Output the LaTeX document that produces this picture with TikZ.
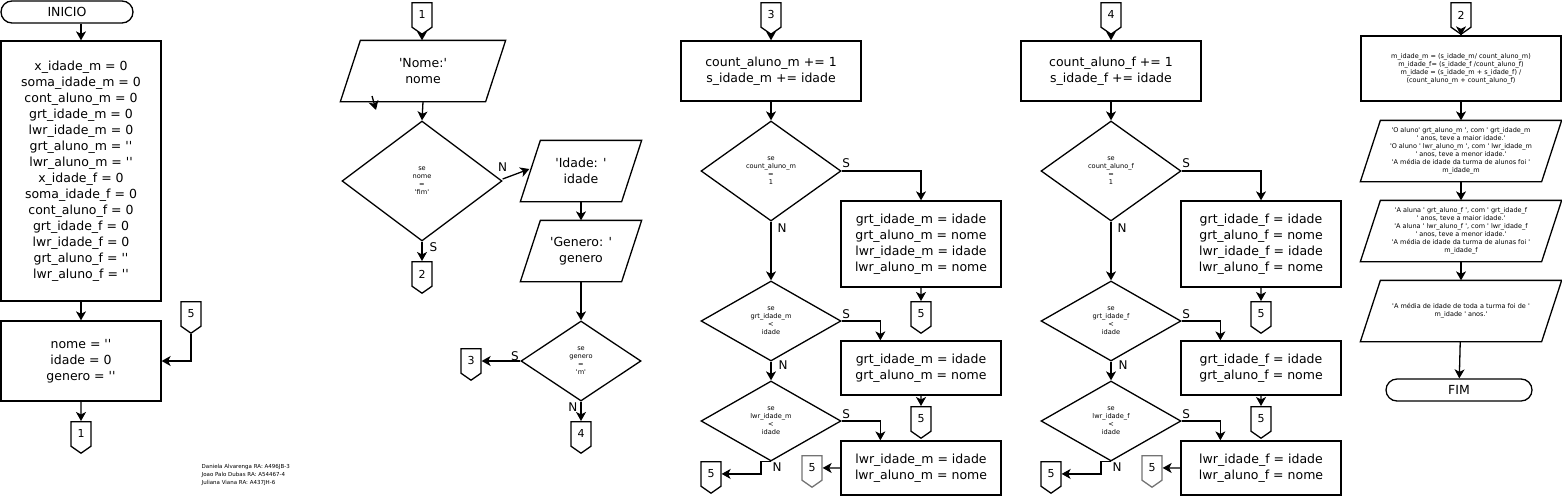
\documentclass[tikz,border=0pt]{standalone}
\usepackage{fontspec}
\setmainfont{DejaVu Sans}[Ligatures=TeXOff]
\usetikzlibrary{arrows.meta,shapes.geometric,shapes.symbols}

% paralelogramo de entrada/saida sobre um no retangular
\newcommand{\paral}[1]{\draw ([xshift=20pt]#1.north west) -- (#1.north east) -- ([xshift=-20pt]#1.south east) -- (#1.south west) -- cycle;}

\begin{document}
\begin{tikzpicture}[x=1pt, y=-1pt, line width=1.3pt,
		font=\fontsize{12.5}{16}\selectfont,
		every node/.style={align=center, inner sep=0pt},
		flux/.style={-{Stealth[length=9pt, width=10pt, inset=2.5pt]}},
		terminal/.style={draw, rectangle, rounded corners=11pt, minimum height=22pt},
		proc/.style={draw, rectangle},
		io/.style={rectangle, minimum height=60pt},
		decisao/.style={draw, diamond, font=\fontsize{6.6}{8}\selectfont},
		conector/.style={draw, signal, signal to=south, signal pointer angle=110, minimum width=20pt, minimum height=27pt, anchor=north, font=\fontsize{11}{13}\selectfont},
		rotulo/.style={font=\fontsize{12}{14}\selectfont},
		miudo/.style={font=\fontsize{6.5}{8}\selectfont}]
	\useasboundingbox (0,0) rectangle (1562,496);

	% inicio e variaveis
	\node[terminal, minimum width=132pt] (inicio) at (67,12) {INICIO};
	\node[proc, minimum width=160pt, minimum height=260pt] (ini_m) at (81,171) {x\_idade\_m = 0\\soma\_idade\_m = 0\\cont\_aluno\_m = 0\\grt\_idade\_m = 0\\lwr\_idade\_m = 0\\grt\_aluno\_m = ''\\lwr\_aluno\_m = ''\\x\_idade\_f = 0\\soma\_idade\_f = 0\\cont\_aluno\_f = 0\\grt\_idade\_f = 0\\lwr\_idade\_f = 0\\grt\_aluno\_f = ''\\lwr\_aluno\_f = ''};
	\node[proc, minimum width=160pt, minimum height=80pt] (ini_var) at (81,361) {nome = ''\\idade = 0\\genero = ''};
	\node[conector] (c1a) at (81,421) {1};
	\node[conector] (c5a) at (191,301) {5};
	\draw[flux] (ini_m.north |- inicio.south) -- (ini_m.north);
	\draw[flux] (ini_m) -- (ini_var);
	\draw[flux] (ini_var) -- (c1a);
	\draw[flux] (c5a.south) |- (ini_var.east);

	\node[font=\fontsize{5.5}{8}\selectfont, align=left, anchor=north west] (autores) at (201,464) {Daniela Alvarenga RA: A496JB-3\\Joao Palo Dubas RA: A54467-4\\Juliana Viana RA: A437JH-6};

	% leitura
	\node[conector] (c1b) at (422,2) {1};
	\node[io, minimum width=164pt] (le_nome) at (423,71) {'Nome:'\\nome};
	\paral{le_nome}
	\node[decisao, minimum width=160pt, minimum height=120pt] (se_fim) at (422,181) {se\\nome\\=\\'fim'};
	\node[conector] (c2a) at (422,261) {2};
	\node[io, minimum width=120pt] (le_idade) at (581,171) {'Idade: '\\idade};
	\paral{le_idade}
	\node[io, minimum width=120pt] (le_genero) at (581,251) {'Genero: '\\genero};
	\paral{le_genero}
	\node[decisao, minimum width=120pt, minimum height=80pt] (se_m) at (581,361) {se\\genero\\=\\'m'};
	\node[conector] (c3a) at (471,348) {3};
	\node[conector] (c4a) at (581,421) {4};
	\coordinate (solta_a) at (372,96);
	\coordinate (solta_b) at (376,110);
	\draw[flux] (c1b.south) -- (c1b.south |- le_nome.north);
	\draw[flux] (solta_a) -- (solta_b);
	\draw[flux] (le_nome.south) -- (se_fim.north);
	\draw[flux] ([yshift=2pt]se_fim.east) -- ([xshift=9pt,yshift=2pt]le_idade.west) node[rotulo, pos=0, anchor=south, yshift=7pt]{N};
	\draw[flux] (se_fim.south) -- (c2a.north) node[rotulo, pos=0, anchor=north west, xshift=7pt]{S};
	\draw[flux] (le_idade) -- (le_genero);
	\draw[flux] (le_genero) -- (se_m);
	\draw[flux] (se_m.west) -- (se_m.west -| c3a.east) node[rotulo, pos=0, anchor=south east, xshift=-1pt]{S};
	\draw[flux] (se_m.south) -- (c4a.north) node[rotulo, pos=0, anchor=north east, xshift=-3pt]{N};

	% alunos
	\node[conector] (c3b) at (771,2) {3};
	\node[proc, minimum width=180pt, minimum height=60pt] (soma_m) at (771,71) {count\_aluno\_m += 1\\s\_idade\_m += idade};
	\node[decisao, minimum width=140pt, minimum height=100pt] (se_um_m) at (771,171) {se\\count\_aluno\_m\\=\\1};
	\node[proc, minimum width=160pt, minimum height=86pt] (prim_m) at (921,244) {grt\_idade\_m = idade\\grt\_aluno\_m = nome\\lwr\_idade\_m = idade\\lwr\_aluno\_m = nome};
	\node[conector] (c5b) at (921,301) {5};
	\node[decisao, minimum width=140pt, minimum height=80pt] (se_maior_m) at (771,321) {se\\grt\_idade\_m\\<\\idade};
	\node[proc, minimum width=160pt, minimum height=54pt] (maior_m) at (921,368) {grt\_idade\_m = idade\\grt\_aluno\_m = nome};
	\node[conector] (c5c) at (921,406) {5};
	\node[decisao, minimum width=140pt, minimum height=80pt] (se_menor_m) at (771,421) {se\\lwr\_idade\_m\\<\\idade};
	\node[proc, minimum width=160pt, minimum height=54pt] (menor_m) at (921,468) {lwr\_idade\_m = idade\\lwr\_aluno\_m = nome};
	\node[conector, draw=black!55] (c5d) at (812,455) {5};
	\node[conector] (c5e) at (711,461) {5};
	\draw[flux] (c3b) -- (soma_m);
	\draw[flux] (soma_m) -- (se_um_m);
	\draw[flux] (se_um_m.east) -| (prim_m.north) node[rotulo, pos=0, anchor=south west, yshift=3pt]{S};
	\draw[flux] (prim_m) -- (c5b);
	\draw[flux] (se_um_m.south) -- (se_maior_m.north) node[rotulo, pos=0, anchor=north west, xshift=6pt, yshift=-1pt]{N};
	\draw[flux] (se_maior_m.east) -| ([xshift=40pt]maior_m.north west) node[rotulo, pos=0, anchor=south west, yshift=2pt]{S};
	\draw[flux] (maior_m) -- (c5c);
	\draw[flux] (se_maior_m.south) -- (se_menor_m.north) node[rotulo, pos=0, anchor=north west, xshift=7pt, yshift=2pt]{N};
	\draw[flux] (se_menor_m.east) -| ([xshift=40pt]menor_m.north west) node[rotulo, pos=0, anchor=south west, yshift=2pt]{S};
	\draw[flux] (menor_m.west) -- (c5d.east);
	\draw[flux] (se_menor_m.south) -- ++(-10,0) |- (c5e.east) node[rotulo, pos=0, anchor=north west, xshift=11pt]{N};

	% alunas
	\node[conector] (c4b) at (1111,2) {4};
	\node[proc, minimum width=180pt, minimum height=60pt] (soma_f) at (1111,71) {count\_aluno\_f += 1\\s\_idade\_f += idade};
	\node[decisao, minimum width=140pt, minimum height=100pt] (se_um_f) at (1111,171) {se\\count\_aluno\_f\\=\\1};
	\node[proc, minimum width=160pt, minimum height=86pt] (prim_f) at (1261,244) {grt\_idade\_f = idade\\grt\_aluno\_f = nome\\lwr\_idade\_f = idade\\lwr\_aluno\_f = nome};
	\node[conector] (c5f) at (1261,301) {5};
	\node[decisao, minimum width=140pt, minimum height=80pt] (se_maior_f) at (1111,321) {se\\grt\_idade\_f\\<\\idade};
	\node[proc, minimum width=160pt, minimum height=54pt] (maior_f) at (1261,368) {grt\_idade\_f = idade\\grt\_aluno\_f = nome};
	\node[conector] (c5g) at (1261,406) {5};
	\node[decisao, minimum width=140pt, minimum height=80pt] (se_menor_f) at (1111,421) {se\\lwr\_idade\_f\\<\\idade};
	\node[proc, minimum width=160pt, minimum height=54pt] (menor_f) at (1261,468) {lwr\_idade\_f = idade\\lwr\_aluno\_f = nome};
	\node[conector, draw=black!55] (c5h) at (1152,455) {5};
	\node[conector] (c5i) at (1051,461) {5};
	\draw[flux] (c4b) -- (soma_f);
	\draw[flux] (soma_f) -- (se_um_f);
	\draw[flux] (se_um_f.east) -| (prim_f.north) node[rotulo, pos=0, anchor=south west, yshift=3pt]{S};
	\draw[flux] (prim_f) -- (c5f);
	\draw[flux] (se_um_f.south) -- (se_maior_f.north) node[rotulo, pos=0, anchor=north west, xshift=6pt, yshift=-1pt]{N};
	\draw[flux] (se_maior_f.east) -| ([xshift=40pt]maior_f.north west) node[rotulo, pos=0, anchor=south west, yshift=2pt]{S};
	\draw[flux] (maior_f) -- (c5g);
	\draw[flux] (se_maior_f.south) -- (se_menor_f.north) node[rotulo, pos=0, anchor=north west, xshift=7pt, yshift=2pt]{N};
	\draw[flux] (se_menor_f.east) -| ([xshift=40pt]menor_f.north west) node[rotulo, pos=0, anchor=south west, yshift=2pt]{S};
	\draw[flux] (menor_f.west) -- (c5h.east);
	\draw[flux] (se_menor_f.south) -- ++(-10,0) |- (c5i.east) node[rotulo, pos=0, anchor=north west, xshift=11pt]{N};

	% resultados
	\node[conector] (c2b) at (1461,2) {2};
	\node[proc, miudo, minimum width=200pt, minimum height=65pt] (medias) at (1461,68.5) {m\_idade\_m = (s\_idade\_m/ count\_aluno\_m)\\m\_idade\_f= (s\_idade\_f /count\_aluno\_f)\\m\_idade = (s\_idade\_m + s\_idade\_f) /\\(count\_aluno\_m + count\_aluno\_f)};
	\node[io, miudo, minimum width=200pt] (saida_m) at (1461,151) {'O aluno' grt\_aluno\_m ', com ' grt\_idade\_m\\' anos, teve a maior idade.'\\'O aluno ' lwr\_aluno\_m ', com ' lwr\_idade\_m\\' anos, teve a menor idade.'\\'A média de idade da turma de alunos foi '\\m\_idade\_m};
	\paral{saida_m}
	\node[io, miudo, minimum width=200pt] (saida_f) at (1461,231) {'A aluna ' grt\_aluno\_f ', com ' grt\_idade\_f\\' anos, teve a maior idade.'\\'A aluna ' lwr\_aluno\_f ', com ' lwr\_idade\_f\\' anos, teve a menor idade.'\\'A média de idade da turma de alunas foi '\\m\_idade\_f};
	\paral{saida_f}
	\node[io, miudo, minimum width=200pt] (saida_geral) at (1461,311) {'A média de idade de toda a turma foi de '\\m\_idade ' anos.'};
	\paral{saida_geral}
	\node[terminal, minimum width=146pt] (fim) at (1459,390) {FIM};
	\draw[flux] (c2b) -- (medias);
	\draw[flux] (medias) -- (saida_m);
	\draw[flux] (saida_m) -- (saida_f);
	\draw[flux] (saida_f) -- (saida_geral);
	\draw[flux] (saida_geral) -- (fim);
\end{tikzpicture}
\end{document}
